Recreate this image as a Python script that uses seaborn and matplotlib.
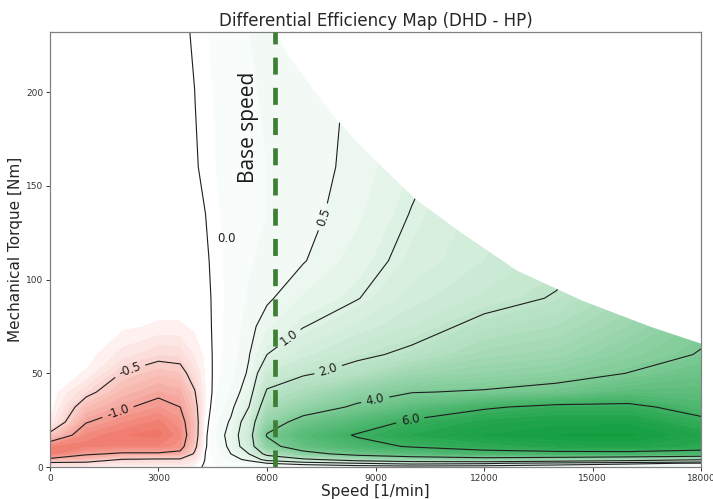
import numpy as np
import matplotlib
matplotlib.use("Agg")
import matplotlib.pyplot as plt
import seaborn as sns
from matplotlib.colors import LinearSegmentedColormap, TwoSlopeNorm

# ---- data ----
speeds = [0, 1000, 2000, 3000, 3600, 4000, 4300, 4600, 5000, 5500,
          6000, 7000, 8500, 10000, 12000, 14000, 16000, 18000]
torques = [0, 2, 4, 7, 11, 17, 24, 32, 40, 50, 60, 75, 90, 110, 135, 160, 195, 232]

# efficiency difference [%] along torque, one list per speed column
diff_0 = [-0.2, -0.4, -0.9, -1.4, -1.3, -0.6, -0.15, -0.05, -0.03, -0.02, -0.02, -0.02, -0.02, -0.02, -0.02, -0.02, -0.02, -0.02]
diff_1000 = [-0.2, -0.4, -0.75, -1.05, -1.35, -1.25, -0.98, -0.7, -0.4, -0.12, -0.05, -0.03, -0.02, -0.02, -0.02, -0.02, -0.02, -0.02]
diff_2000 = [-0.15, -0.3, -0.48, -0.95, -1.3, -1.4, -1.2, -0.95, -0.75, -0.52, -0.25, -0.08, -0.03, -0.02, -0.02, -0.02, -0.02, -0.02]
diff_3000 = [-0.15, -0.3, -0.45, -0.95, -1.3, -1.45, -1.35, -1.12, -0.92, -0.68, -0.4, -0.12, -0.04, -0.02, -0.02, -0.02, -0.02, -0.02]
diff_3600 = [-0.15, -0.3, -0.45, -0.9, -1.15, -1.25, -1.15, -1.0, -0.85, -0.62, -0.38, -0.12, -0.04, -0.02, -0.02, -0.02, -0.02, -0.02]
diff_4000 = [-0.1, -0.2, -0.3, -0.45, -0.6, -0.7, -0.7, -0.62, -0.52, -0.35, -0.2, -0.08, -0.04, -0.03, -0.02, -0.01, -0.002, 0.01]
diff_4300 = [0.05, 0.04, 0.02, 0.01, -0.03, -0.05, -0.1, -0.13, -0.12, -0.1, -0.08, -0.06, -0.05, -0.03, 0.0, 0.02, 0.05, 0.08]
diff_4600 = [0.1, 0.12, 0.15, 0.2, 0.25, 0.3, 0.25, 0.15, 0.08, 0.06, 0.05, 0.05, 0.05, 0.06, 0.08, 0.1, 0.12, 0.15]
diff_5000 = [0.1, 0.2, 0.35, 0.5, 0.6, 0.65, 0.55, 0.4, 0.3, 0.22, 0.18, 0.15, 0.14, 0.14, 0.15, 0.17, 0.2, 0.22]
diff_5500 = [0.12, 0.3, 0.6, 1.0, 1.4, 1.5, 1.35, 1.0, 0.7, 0.55, 0.48, 0.4, 0.32, 0.28, 0.25, 0.25, 0.27, 0.3]
diff_6000 = [0.15, 0.5, 1.2, 2.3, 3.5, 4.1, 3.3, 2.6, 2.1, 1.5, 1.0, 0.65, 0.45, 0.35, 0.3, 0.3, 0.32, 0.35]
diff_7000 = [0.15, 0.7, 1.8, 3.5, 4.8, 5.2, 4.5, 3.3, 2.6, 1.9, 1.4, 0.98, 0.72, 0.48, 0.4, 0.38, 0.38, 0.38]
diff_8500 = [0.2, 1.0, 2.5, 4.5, 5.6, 6.1, 5.3, 4.2, 3.4, 2.3, 1.85, 1.35, 0.98, 0.8, 0.65, 0.58, 0.55, 0.5]
diff_10000 = [0.25, 1.2, 3.0, 5.0, 6.1, 6.7, 6.2, 5.0, 3.95, 3.0, 2.15, 1.7, 1.4, 1.15, 1.02, 0.9, 0.85, 0.8]
diff_12000 = [0.2, 1.1, 3.3, 5.5, 6.5, 7.1, 6.8, 5.85, 4.1, 3.3, 2.8, 2.2, 1.75, 1.5, 1.4, 1.3, 1.25, 1.2]
diff_14000 = [0.15, 0.8, 3.0, 5.6, 6.8, 7.3, 7.0, 6.3, 4.4, 3.55, 3.0, 2.5, 2.05, 1.8, 1.6, 1.5, 1.45, 1.4]
diff_16000 = [0.12, 0.6, 2.6, 5.6, 6.9, 7.35, 7.05, 6.3, 5.0, 4.02, 3.6, 3.1, 2.7, 2.4, 2.2, 2.1, 2.0, 2.0]
diff_18000 = [0.1, 0.45, 2.1, 5.4, 6.6, 6.9, 6.3, 5.5, 5.0, 4.6, 4.05, 3.8, 3.6, 3.3, 3.1, 3.0, 2.9, 2.8]

# max torque envelope of the drive
env_speed = [6200, 6600, 7100, 7800, 8600, 9400, 10100, 11300, 12900, 14700, 16600, 18000]
env_torque = [232, 219, 206, 188, 171, 156, 143, 126, 105, 89, 75, 66]

labelled_levels = [-1.0, -0.5, 0.5, 1.0, 2.0, 4.0, 6.0]
base_speed = 6220

columns = [diff_0, diff_1000, diff_2000, diff_3000, diff_3600, diff_4000, diff_4300,
           diff_4600, diff_5000, diff_5500, diff_6000, diff_7000, diff_8500,
           diff_10000, diff_12000, diff_14000, diff_16000, diff_18000]
Z = np.array(columns).T

# ---- plot ----
sns.set_style("ticks")
plt.rcParams["font.family"] = ["DejaVu Sans"]

fig = plt.figure(figsize=(7.13, 4.99), dpi=100)
ax = fig.add_axes([0.0701, 0.0641, 0.9131, 0.8717])

cmap = LinearSegmentedColormap.from_list("red_white_green", ["#f07262", "#ffffff", "#0f9d3c"])
norm = TwoSlopeNorm(vmin=-1.5, vcenter=0.0, vmax=7.5)
# band around zero stays white
fill_levels = np.concatenate([np.linspace(-1.5, -0.1, 15), np.linspace(0.1, 7.5, 38)])
ax.contourf(speeds, torques, Z, levels=fill_levels, cmap=cmap, norm=norm, extend="both")

# zero line drawn on its own, its label sits off the line
ax.contour(speeds, torques, Z, levels=[0.0], colors="#1e1e1e", linewidths=0.8,
           linestyles="solid")
cs = ax.contour(speeds, torques, Z, levels=labelled_levels, colors="#1e1e1e",
                linewidths=0.8, linestyles="solid")
ax.clabel(cs, fmt="%.1f", fontsize=8.5,
          manual=[(1850, 31), (2210, 51), (7470, 134), (6640, 68), (7690, 52), (8990, 36), (9950, 26)])
ax.text(4870, 122, "0.0", fontsize=8.5, ha="center", va="center", color="#1e1e1e")

# blank out the area above the torque envelope
ax.fill_between(env_speed, env_torque, 240, color="white", lw=0, zorder=2.2)

ax.axvline(base_speed, color="#3f7f35", lw=3.4, linestyle=(0, (3.6, 2.8)), zorder=3)
ax.text(5480, 181, "Base speed", rotation=90, ha="center", va="center",
        fontsize=15, family=["Open Sans", "DejaVu Sans"], color="#1a1a1a", zorder=4)

ax.set_xlim(0, 18000)
ax.set_ylim(0, 232)
ax.set_xticks([0, 3000, 6000, 9000, 12000, 15000, 18000])
ax.set_yticks([0, 50, 100, 150, 200])
ax.tick_params(labelsize=6.5, length=3, width=0.7, pad=2, colors="#333333")
for s in ax.spines.values():
    s.set_color("#808080")
    s.set_linewidth(0.9)

ax.set_title("Differential Efficiency Map (DHD - HP)", fontsize=12, pad=4)
ax.set_xlabel("Speed [1/min]", fontsize=11, labelpad=1)
ax.set_ylabel("Mechanical Torque [Nm]", fontsize=11, labelpad=2)

fig.savefig("out.png", dpi=100)
